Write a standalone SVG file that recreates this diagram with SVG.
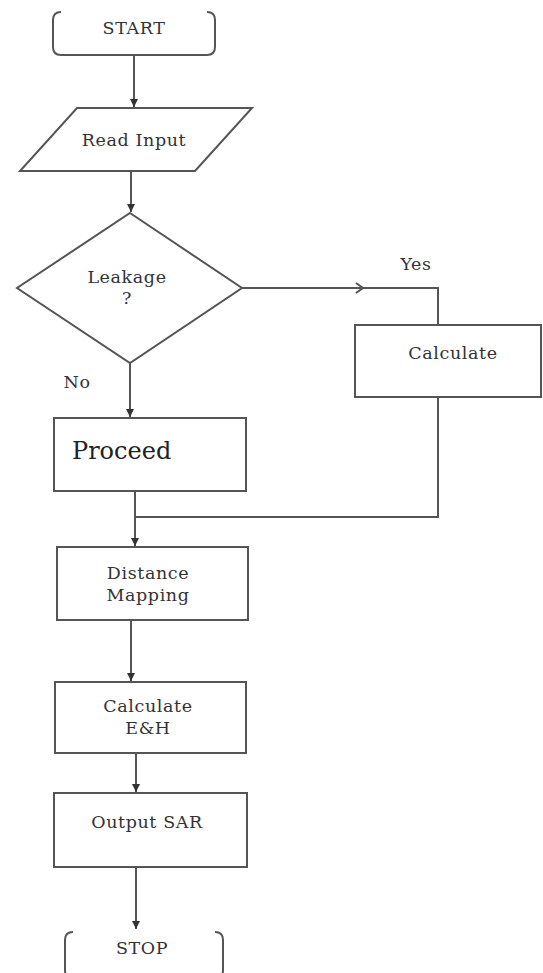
<svg xmlns="http://www.w3.org/2000/svg" width="543" height="973" viewBox="0 0 543 973">
<style>
.s{fill:#fff;stroke:#555;stroke-width:2}
.t{font-family:"DejaVu Serif","Liberation Serif",serif;font-size:17.5px;fill:#333;text-anchor:middle;letter-spacing:0.6px}
.c{fill:none;stroke:#555;stroke-width:2}
</style>
<defs>
<marker id="ah" markerWidth="10" markerHeight="10" refX="9" refY="5" orient="auto" markerUnits="userSpaceOnUse">
<path d="M1,1 L9,5 L1,9 Z" fill="#333"/>
</marker>
</defs>
<rect width="543" height="973" fill="#fff"/>
<g id="connectors">
<line class="c" x1="134" y1="56" x2="134" y2="107" marker-end="url(#ah)"/>
<line class="c" x1="131" y1="172" x2="131" y2="212" marker-end="url(#ah)"/>
<polyline class="c" points="242,288 438,288 438,325"/>
<polyline class="c" points="356,283 363,288 356,293" stroke-width="1.5"/>
<line class="c" x1="130" y1="363" x2="130" y2="417" marker-end="url(#ah)"/>
<polyline class="c" points="438,397 438,517 135,517"/>
<line class="c" x1="135" y1="491" x2="135" y2="546" marker-end="url(#ah)"/>
<line class="c" x1="131" y1="620" x2="131" y2="681" marker-end="url(#ah)"/>
<line class="c" x1="136" y1="753" x2="136" y2="792" marker-end="url(#ah)"/>
<line class="c" x1="136" y1="867" x2="136" y2="929" marker-end="url(#ah)"/>
<text class="t" x="416" y="270">Yes</text>
<text class="t" x="77" y="388">No</text>
</g>
<g id="start">
<path class="c" d="M61,12 Q53,12 53,20 L53,47 Q53,55 61,55 L207,55 Q215,55 215,47 L215,20 Q215,12 207,12"/>
<text class="t" x="134" y="34">START</text>
</g>
<g id="read">
<polygon class="s" points="77,108 252,108 195,171 20,171"/>
<text class="t" x="134" y="146">Read Input</text>
</g>
<g id="leakage">
<polygon class="s" points="130,213 242,288 130,363 17,288"/>
<text class="t" x="127" y="283">Leakage</text>
<text class="t" x="127" y="304">?</text>
</g>
<g id="calculate">
<rect class="s" x="355" y="325" width="186" height="72"/>
<text class="t" x="453" y="359">Calculate</text>
</g>
<g id="proceed">
<rect class="s" x="54" y="418" width="192" height="73"/>
<text x="72" y="459" font-family="DejaVu Serif, Liberation Serif, serif" font-size="24" fill="#222">Proceed</text>
</g>
<g id="distance">
<rect class="s" x="57" y="547" width="191" height="73"/>
<text class="t" x="148" y="579">Distance</text>
<text class="t" x="148" y="601">Mapping</text>
</g>
<g id="calceh">
<rect class="s" x="55" y="682" width="191" height="71"/>
<text class="t" x="148" y="712">Calculate</text>
<text class="t" x="148" y="734">E&amp;H</text>
</g>
<g id="output">
<rect class="s" x="54" y="793" width="193" height="74"/>
<text class="t" x="147" y="828">Output SAR</text>
</g>
<g id="stop">
<path class="c" d="M73,932 Q65,932 65,940 L65,970 Q65,978 73,978 L215,978 Q223,978 223,970 L223,940 Q223,932 215,932"/>
<text class="t" x="142" y="954">STOP</text>
</g>
</svg>
